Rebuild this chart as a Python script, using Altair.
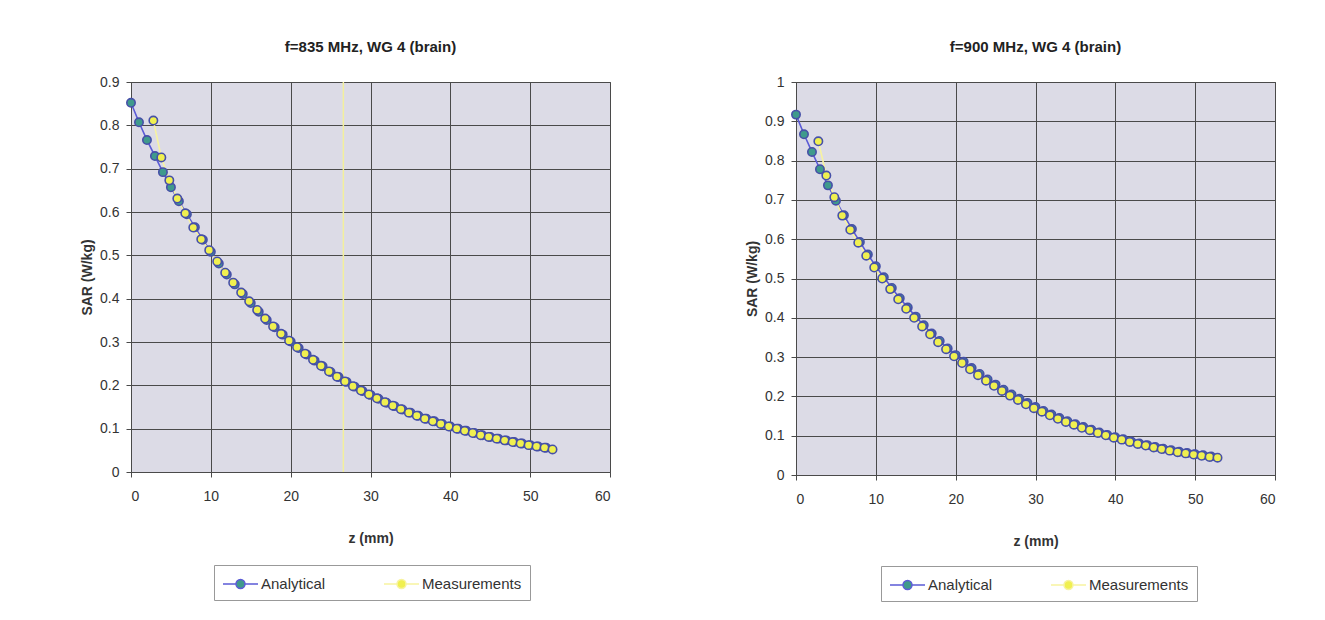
import altair as alt
import pandas as pd

FONT = "Liberation Sans"

series_names = ["Analytical", "Measurements"]
line_colors = ["#5b5bd6", "#f7f3a0"]
fill_colors = ["#3f9a8c", "#f0f050"]

z_analytical = [0, 1, 2, 3, 4, 5, 6, 7, 8, 9, 10, 11, 12, 13, 14, 15, 16, 17, 18, 19,
                20, 21, 22, 23, 24, 25, 26, 27, 28, 29, 30, 31, 32, 33, 34, 35, 36, 37,
                38, 39, 40, 41, 42, 43, 44, 45, 46, 47, 48, 49, 50, 51, 52]
z_measured = [2.8, 3.8, 4.8, 5.8, 6.8, 7.8, 8.8, 9.8, 10.8, 11.8, 12.8, 13.8, 14.8, 15.8,
              16.8, 17.8, 18.8, 19.8, 20.8, 21.8, 22.8, 23.8, 24.8, 25.8, 26.8, 27.8,
              28.8, 29.8, 30.8, 31.8, 32.8, 33.8, 34.8, 35.8, 36.8, 37.8, 38.8, 39.8,
              40.8, 41.8, 42.8, 43.8, 44.8, 45.8, 46.8, 47.8, 48.8, 49.8, 50.8, 51.8, 52.8]

sar_835_analytical = [0.852, 0.807, 0.766, 0.729, 0.692, 0.657, 0.625, 0.595, 0.565, 0.536,
                      0.508, 0.481, 0.456, 0.433, 0.411, 0.390, 0.370, 0.351, 0.334, 0.317,
                      0.301, 0.286, 0.271, 0.257, 0.244, 0.231, 0.219, 0.208, 0.197, 0.187,
                      0.178, 0.169, 0.160, 0.152, 0.144, 0.137, 0.130, 0.123, 0.117, 0.111,
                      0.105, 0.100, 0.095, 0.090, 0.085, 0.081, 0.077, 0.073, 0.069, 0.066,
                      0.062, 0.059, 0.056]
sar_835_measured = [0.811, 0.726, 0.673, 0.631, 0.597, 0.564, 0.537, 0.512, 0.486, 0.460,
                    0.437, 0.414, 0.394, 0.374, 0.354, 0.336, 0.319, 0.303, 0.288, 0.273,
                    0.259, 0.245, 0.232, 0.220, 0.209, 0.198, 0.188, 0.179, 0.170, 0.161,
                    0.153, 0.145, 0.137, 0.130, 0.123, 0.117, 0.111, 0.105, 0.100, 0.095,
                    0.090, 0.085, 0.081, 0.077, 0.073, 0.069, 0.066, 0.062, 0.059, 0.056,
                    0.052]

sar_900_analytical = [0.917, 0.867, 0.822, 0.778, 0.737, 0.698, 0.661, 0.626, 0.593, 0.561,
                      0.531, 0.503, 0.476, 0.450, 0.426, 0.403, 0.381, 0.360, 0.341, 0.322,
                      0.305, 0.288, 0.272, 0.257, 0.243, 0.230, 0.217, 0.205, 0.194, 0.183,
                      0.173, 0.163, 0.154, 0.145, 0.137, 0.129, 0.122, 0.115, 0.108, 0.102,
                      0.096, 0.091, 0.085, 0.080, 0.076, 0.071, 0.067, 0.063, 0.059, 0.056,
                      0.053, 0.050, 0.047]
sar_900_measured = [0.849, 0.762, 0.707, 0.660, 0.624, 0.591, 0.558, 0.528, 0.500, 0.473,
                    0.447, 0.423, 0.400, 0.378, 0.358, 0.338, 0.320, 0.302, 0.285, 0.269,
                    0.254, 0.240, 0.227, 0.214, 0.202, 0.191, 0.180, 0.170, 0.161, 0.152,
                    0.143, 0.135, 0.128, 0.120, 0.114, 0.107, 0.101, 0.095, 0.090, 0.084,
                    0.079, 0.075, 0.070, 0.066, 0.062, 0.058, 0.055, 0.052, 0.049, 0.046,
                    0.044]

x_ticks = [0, 10, 20, 30, 40, 50, 60]
y_ticks_835 = [0, 0.1, 0.2, 0.3, 0.4, 0.5, 0.6, 0.7, 0.8, 0.9]
y_ticks_900 = [0, 0.1, 0.2, 0.3, 0.4, 0.5, 0.6, 0.7, 0.8, 0.9, 1]
rule_835_z = [26.6]

# legend glyph: a line with a circle marker in its middle (units of 10 px)
SYMBOL = ("M-1,0L0.3,0M1.2,0L2.5,0"
          "M0.3,0A0.45,0.45 0 1,0 1.2,0A0.45,0.45 0 1,0 0.3,0Z")


def make_legend(lx, ly):
    return alt.Legend(
        title=None, orient="none", direction="horizontal",
        legendX=lx, legendY=ly,
        symbolType=SYMBOL, symbolSize=400, symbolStrokeWidth=1.5,
        labelFont=FONT, labelFontSize=15, labelColor="#333",
        columnPadding=55, labelOffset=17,
        strokeColor="#999", padding=8, fillColor="white",
    )


def panel(title, ana, meas, yticks, ymax, height, lx, ly, rule=None):
    df = pd.concat([
        pd.DataFrame({"z": z_analytical, "sar": ana, "series": series_names[0]}),
        pd.DataFrame({"z": z_measured, "sar": meas, "series": series_names[1]}),
    ])
    x = alt.X("z:Q", scale=alt.Scale(domain=[0, 60], nice=False, zero=False),
              axis=alt.Axis(values=x_ticks, title="z (mm)", format="d",
                            labelPadding=12, titlePadding=28))
    y = alt.Y("sar:Q", scale=alt.Scale(domain=[0, ymax], nice=False),
              axis=alt.Axis(values=yticks, title="SAR (W/kg)", format=".1~f",
                            labelPadding=7, titlePadding=5))
    leg = make_legend(lx, ly)
    lines = alt.Chart(df).mark_line(strokeWidth=1.6).encode(
        x=x, y=y,
        stroke=alt.Stroke("series:N", scale=alt.Scale(domain=series_names, range=line_colors),
                          legend=leg),
        order="z:Q",
    )
    pts = alt.Chart(df).mark_point(filled=True, size=70, strokeWidth=1.6, opacity=1,
                                   shape="circle").encode(
        x=x, y=y,
        fill=alt.Fill("series:N", scale=alt.Scale(domain=series_names, range=fill_colors),
                      legend=leg),
        stroke=alt.value("#4650a8"),
    )
    layers = []
    if rule is not None:
        rdf = pd.DataFrame({"z": rule})
        layers.append(alt.Chart(rdf).mark_rule(color="#f3ef9c", strokeWidth=1.5).encode(
            x=alt.X("z:Q")))
    layers += [lines, pts]
    return alt.layer(*layers).properties(
        width=479, height=height,
        title=alt.TitleParams(title, font=FONT, fontSize=15, fontWeight="bold",
                              color="#222", offset=20, anchor="middle"),
    )


left = panel("f=835 MHz, WG 4 (brain)", sar_835_analytical, sar_835_measured,
             y_ticks_835, 0.9, 390, 83, 483, rule=rule_835_z)
right = panel("f=900 MHz, WG 4 (brain)", sar_900_analytical, sar_900_measured,
              y_ticks_900, 1.0, 393, 85, 484)

chart = alt.hconcat(left, right, spacing=134).resolve_scale(
    stroke="independent", fill="independent"
).resolve_legend(
    stroke="independent", fill="independent"
).configure_view(
    fill="#dcdbe6", stroke="#555", strokeWidth=1
).configure_axis(
    grid=True, gridColor="#4a4a4a", gridWidth=1, domainColor="#4a4a4a",
    tickColor="#4a4a4a", tickSize=5,
    labelFont=FONT, labelFontSize=14, labelColor="#333",
    titleFont=FONT, titleFontSize=14, titleFontWeight="bold", titleColor="#333",
).properties(
    padding={"left": 72, "top": 31, "right": 10, "bottom": 10},
    background="white",
)

chart.save("out.html", embed_options={"renderer": "svg", "actions": False})
